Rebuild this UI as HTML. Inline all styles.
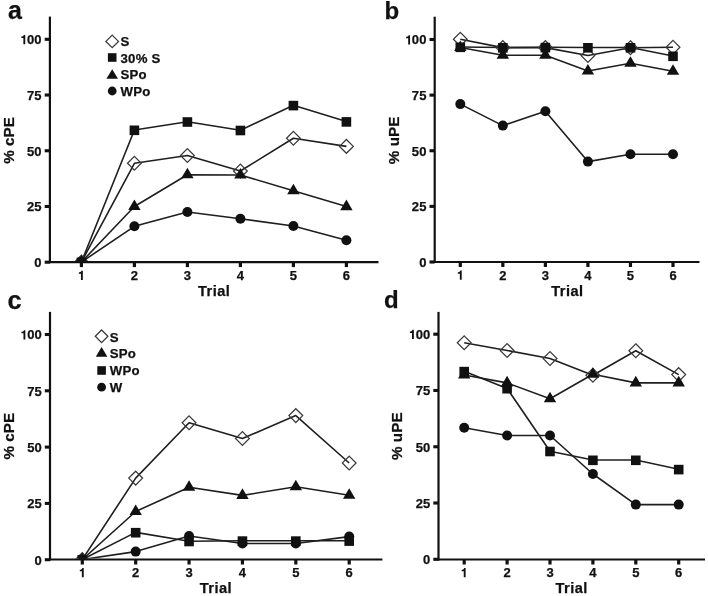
<!DOCTYPE html>
<html><head><meta charset="utf-8"><title>Figure</title>
<style>
html,body{margin:0;padding:0;background:#fff;width:708px;height:596px;overflow:hidden}
svg{display:block;will-change:transform}
text{font-family:"Liberation Sans", sans-serif;font-weight:bold;fill:#111;stroke:#111;stroke-width:0.25px}
</style></head><body>
<svg width="708" height="596" viewBox="0 0 708 596">
<rect width="708" height="596" fill="#fff"/>
<clipPath id="ca"><rect x="49.9" y="0" width="328.6" height="261.2"/></clipPath>
<g clip-path="url(#ca)">
<polyline points="81.4,262.1 134.4,163.3 187.4,155.5 240.4,171 293.4,138.3 346.4,146.4" fill="none" stroke="#1f1f1f" stroke-width="1.6" stroke-linejoin="round"/>
<polyline points="81.4,262.1 134.4,130 187.4,121.7 240.4,130.2 293.4,105.3 346.4,121.6" fill="none" stroke="#1f1f1f" stroke-width="1.6" stroke-linejoin="round"/>
<polyline points="81.4,262.1 134.4,206.5 187.4,174.8 240.4,175 293.4,190.7 346.4,206.6" fill="none" stroke="#1f1f1f" stroke-width="1.6" stroke-linejoin="round"/>
<polyline points="81.4,262.1 134.4,226.3 187.4,212 240.4,218.7 293.4,226 346.4,240.2" fill="none" stroke="#1f1f1f" stroke-width="1.6" stroke-linejoin="round"/>
<path d="M81.4 255.2L88.3 262.1L81.4 269L74.5 262.1Z" fill="none" stroke="#3a3a3a" stroke-width="1.25"/>
<path d="M134.4 156.4L141.3 163.3L134.4 170.2L127.5 163.3Z" fill="none" stroke="#3a3a3a" stroke-width="1.25"/>
<path d="M187.4 148.6L194.3 155.5L187.4 162.4L180.5 155.5Z" fill="none" stroke="#3a3a3a" stroke-width="1.25"/>
<path d="M240.4 164.1L247.3 171L240.4 177.9L233.5 171Z" fill="none" stroke="#3a3a3a" stroke-width="1.25"/>
<path d="M293.4 131.4L300.3 138.3L293.4 145.2L286.5 138.3Z" fill="none" stroke="#3a3a3a" stroke-width="1.25"/>
<path d="M346.4 139.5L353.3 146.4L346.4 153.3L339.5 146.4Z" fill="none" stroke="#3a3a3a" stroke-width="1.25"/>
<rect x="76.6" y="257.6" width="9.6" height="9.6" fill="#111"/>
<rect x="129.6" y="125.5" width="9.6" height="9.6" fill="#111"/>
<rect x="182.6" y="117.2" width="9.6" height="9.6" fill="#111"/>
<rect x="235.6" y="125.7" width="9.6" height="9.6" fill="#111"/>
<rect x="288.6" y="100.8" width="9.6" height="9.6" fill="#111"/>
<rect x="341.6" y="117.1" width="9.6" height="9.6" fill="#111"/>
<path d="M81.4 255.03L87.6 265.63L75.2 265.63Z" fill="#111"/>
<path d="M134.4 199.43L140.6 210.03L128.2 210.03Z" fill="#111"/>
<path d="M187.4 167.73L193.6 178.33L181.2 178.33Z" fill="#111"/>
<path d="M240.4 167.93L246.6 178.53L234.2 178.53Z" fill="#111"/>
<path d="M293.4 183.63L299.6 194.23L287.2 194.23Z" fill="#111"/>
<path d="M346.4 199.53L352.6 210.13L340.2 210.13Z" fill="#111"/>
<circle cx="81.4" cy="262.1" r="5" fill="#111"/>
<circle cx="134.4" cy="226.3" r="5" fill="#111"/>
<circle cx="187.4" cy="212" r="5" fill="#111"/>
<circle cx="240.4" cy="218.7" r="5" fill="#111"/>
<circle cx="293.4" cy="226" r="5" fill="#111"/>
<circle cx="346.4" cy="240.2" r="5" fill="#111"/>
</g>
<line x1="49.9" y1="16.6" x2="49.9" y2="263.1" stroke="#111" stroke-width="2.2"/>
<line x1="48.8" y1="262.1" x2="378.5" y2="262.1" stroke="#111" stroke-width="2.2"/>
<line x1="44.7" y1="262.2" x2="49.9" y2="262.2" stroke="#111" stroke-width="3.1"/>
<text x="41.7" y="267.1" font-size="13.0" text-anchor="end" letter-spacing="0.1" >0</text>
<line x1="44.7" y1="206.47" x2="49.9" y2="206.47" stroke="#111" stroke-width="3.1"/>
<text x="41.7" y="211.38" font-size="13.0" text-anchor="end" letter-spacing="0.1" >25</text>
<line x1="44.7" y1="150.75" x2="49.9" y2="150.75" stroke="#111" stroke-width="3.1"/>
<text x="41.7" y="155.65" font-size="13.0" text-anchor="end" letter-spacing="0.1" >50</text>
<line x1="44.7" y1="95.03" x2="49.9" y2="95.03" stroke="#111" stroke-width="3.1"/>
<text x="41.7" y="99.93" font-size="13.0" text-anchor="end" letter-spacing="0.1" >75</text>
<line x1="44.7" y1="39.3" x2="49.9" y2="39.3" stroke="#111" stroke-width="3.1"/>
<text x="41.7" y="44.2" font-size="13.0" text-anchor="end" letter-spacing="0.1" >00</text>
<path d="M25.25 44.2L25.25 34.97L23.82 34.97C23.61 35.75 23.3 36.14 22.7 36.37C22.24 36.56 21.85 36.62 21.33 36.62L21.33 38.06L23.38 38.06L23.38 44.2Z" fill="#111"/>
<line x1="81.4" y1="262.1" x2="81.4" y2="267.1" stroke="#111" stroke-width="3.2"/>
<path d="M82.82 279.9L82.82 270.67L81.39 270.67C81.18 271.45 80.87 271.84 80.27 272.07C79.81 272.26 79.42 272.32 78.9 272.32L78.9 273.76L80.95 273.76L80.95 279.9Z" fill="#111"/>
<line x1="134.4" y1="262.1" x2="134.4" y2="267.1" stroke="#111" stroke-width="3.2"/>
<text x="134.45" y="279.9" font-size="13.0" text-anchor="middle" letter-spacing="0.1" >2</text>
<line x1="187.4" y1="262.1" x2="187.4" y2="267.1" stroke="#111" stroke-width="3.2"/>
<text x="187.45" y="279.9" font-size="13.0" text-anchor="middle" letter-spacing="0.1" >3</text>
<line x1="240.4" y1="262.1" x2="240.4" y2="267.1" stroke="#111" stroke-width="3.2"/>
<text x="240.45" y="279.9" font-size="13.0" text-anchor="middle" letter-spacing="0.1" >4</text>
<line x1="293.4" y1="262.1" x2="293.4" y2="267.1" stroke="#111" stroke-width="3.2"/>
<text x="293.45" y="279.9" font-size="13.0" text-anchor="middle" letter-spacing="0.1" >5</text>
<line x1="346.4" y1="262.1" x2="346.4" y2="267.1" stroke="#111" stroke-width="3.2"/>
<text x="346.45" y="279.9" font-size="13.0" text-anchor="middle" letter-spacing="0.1" >6</text>
<text x="214.1" y="296" font-size="14.6" text-anchor="middle" letter-spacing="0.45" >Trial</text>
<text x="0" y="0" font-size="15.2" letter-spacing="0.05" text-anchor="middle" transform="translate(14 140.4) rotate(-90)">% cPE</text>
<text x="8" y="19.2" font-size="25" text-anchor="start" stroke="#111" stroke-width="0.35">a</text>
<path d="M112.2 35.1L118.5 41.4L112.2 47.7L105.9 41.4Z" fill="none" stroke="#3a3a3a" stroke-width="1.3"/>
<text x="120.5" y="46" font-size="13.2" text-anchor="start" letter-spacing="0.25" >S</text>
<rect x="107.9" y="53.2" width="8.6" height="8.6" fill="#111"/>
<text x="120.5" y="63" font-size="13.2" text-anchor="start" letter-spacing="0.25" >30% S</text>
<path d="M112.2 69.2L118 78.8L106.4 78.8Z" fill="#111"/>
<text x="120.5" y="79" font-size="13.2" text-anchor="start" letter-spacing="0.25" >SPo</text>
<circle cx="112.2" cy="91" r="4.4" fill="#111"/>
<text x="120.5" y="96" font-size="13.2" text-anchor="start" letter-spacing="0.25" >WPo</text>
<clipPath id="cb"><rect x="434.7" y="0" width="264.8" height="261.1"/></clipPath>
<g clip-path="url(#cb)">
<polyline points="460.3,39.3 502.84,47.6 545.38,47.6 587.92,55.5 630.46,47.7 673,47.3" fill="none" stroke="#1f1f1f" stroke-width="1.6" stroke-linejoin="round"/>
<polyline points="460.3,47.5 502.84,55.3 545.38,55.3 587.92,71 630.46,63.2 673,71.2" fill="none" stroke="#1f1f1f" stroke-width="1.6" stroke-linejoin="round"/>
<polyline points="460.3,47 502.84,47.5 545.38,47.3 587.92,47.5 630.46,47.5 673,56" fill="none" stroke="#1f1f1f" stroke-width="1.6" stroke-linejoin="round"/>
<polyline points="460.3,104.1 502.84,125.6 545.38,111.3 587.92,161.6 630.46,154.3 673,154.3" fill="none" stroke="#1f1f1f" stroke-width="1.6" stroke-linejoin="round"/>
<path d="M460.3 32.4L467.2 39.3L460.3 46.2L453.4 39.3Z" fill="none" stroke="#3a3a3a" stroke-width="1.25"/>
<path d="M502.84 40.7L509.74 47.6L502.84 54.5L495.94 47.6Z" fill="none" stroke="#3a3a3a" stroke-width="1.25"/>
<path d="M545.38 40.7L552.28 47.6L545.38 54.5L538.48 47.6Z" fill="none" stroke="#3a3a3a" stroke-width="1.25"/>
<path d="M587.92 48.6L594.82 55.5L587.92 62.4L581.02 55.5Z" fill="none" stroke="#3a3a3a" stroke-width="1.25"/>
<path d="M630.46 40.8L637.36 47.7L630.46 54.6L623.56 47.7Z" fill="none" stroke="#3a3a3a" stroke-width="1.25"/>
<path d="M673 40.4L679.9 47.3L673 54.2L666.1 47.3Z" fill="none" stroke="#3a3a3a" stroke-width="1.25"/>
<path d="M460.3 40.43L466.5 51.03L454.1 51.03Z" fill="#111"/>
<path d="M502.84 48.23L509.04 58.83L496.64 58.83Z" fill="#111"/>
<path d="M545.38 48.23L551.58 58.83L539.18 58.83Z" fill="#111"/>
<path d="M587.92 63.93L594.12 74.53L581.72 74.53Z" fill="#111"/>
<path d="M630.46 56.13L636.66 66.73L624.26 66.73Z" fill="#111"/>
<path d="M673 64.13L679.2 74.73L666.8 74.73Z" fill="#111"/>
<rect x="455.5" y="42.5" width="9.6" height="9.6" fill="#111"/>
<rect x="498.04" y="43" width="9.6" height="9.6" fill="#111"/>
<rect x="540.58" y="42.8" width="9.6" height="9.6" fill="#111"/>
<rect x="583.12" y="43" width="9.6" height="9.6" fill="#111"/>
<rect x="625.66" y="43" width="9.6" height="9.6" fill="#111"/>
<rect x="668.2" y="51.5" width="9.6" height="9.6" fill="#111"/>
<circle cx="460.3" cy="104.1" r="5" fill="#111"/>
<circle cx="502.84" cy="125.6" r="5" fill="#111"/>
<circle cx="545.38" cy="111.3" r="5" fill="#111"/>
<circle cx="587.92" cy="161.6" r="5" fill="#111"/>
<circle cx="630.46" cy="154.3" r="5" fill="#111"/>
<circle cx="673" cy="154.3" r="5" fill="#111"/>
</g>
<line x1="434.7" y1="16.7" x2="434.7" y2="263" stroke="#111" stroke-width="2.2"/>
<line x1="433.6" y1="262" x2="699.5" y2="262" stroke="#111" stroke-width="2.2"/>
<line x1="429.5" y1="262" x2="434.7" y2="262" stroke="#111" stroke-width="3.1"/>
<text x="426.5" y="266.9" font-size="13.0" text-anchor="end" letter-spacing="0.1" >0</text>
<line x1="429.5" y1="206.38" x2="434.7" y2="206.38" stroke="#111" stroke-width="3.1"/>
<text x="426.5" y="211.28" font-size="13.0" text-anchor="end" letter-spacing="0.1" >25</text>
<line x1="429.5" y1="150.75" x2="434.7" y2="150.75" stroke="#111" stroke-width="3.1"/>
<text x="426.5" y="155.65" font-size="13.0" text-anchor="end" letter-spacing="0.1" >50</text>
<line x1="429.5" y1="95.12" x2="434.7" y2="95.12" stroke="#111" stroke-width="3.1"/>
<text x="426.5" y="100.03" font-size="13.0" text-anchor="end" letter-spacing="0.1" >75</text>
<line x1="429.5" y1="39.5" x2="434.7" y2="39.5" stroke="#111" stroke-width="3.1"/>
<text x="426.5" y="44.4" font-size="13.0" text-anchor="end" letter-spacing="0.1" >00</text>
<path d="M410.05 44.4L410.05 35.17L408.62 35.17C408.41 35.95 408.1 36.34 407.5 36.57C407.04 36.76 406.65 36.82 406.13 36.82L406.13 38.26L408.18 38.26L408.18 44.4Z" fill="#111"/>
<line x1="460.3" y1="262" x2="460.3" y2="267" stroke="#111" stroke-width="3.2"/>
<path d="M461.72 279.8L461.72 270.57L460.29 270.57C460.08 271.35 459.77 271.74 459.17 271.97C458.71 272.16 458.32 272.22 457.8 272.22L457.8 273.66L459.85 273.66L459.85 279.8Z" fill="#111"/>
<line x1="502.84" y1="262" x2="502.84" y2="267" stroke="#111" stroke-width="3.2"/>
<text x="502.89" y="279.8" font-size="13.0" text-anchor="middle" letter-spacing="0.1" >2</text>
<line x1="545.38" y1="262" x2="545.38" y2="267" stroke="#111" stroke-width="3.2"/>
<text x="545.43" y="279.8" font-size="13.0" text-anchor="middle" letter-spacing="0.1" >3</text>
<line x1="587.92" y1="262" x2="587.92" y2="267" stroke="#111" stroke-width="3.2"/>
<text x="587.97" y="279.8" font-size="13.0" text-anchor="middle" letter-spacing="0.1" >4</text>
<line x1="630.46" y1="262" x2="630.46" y2="267" stroke="#111" stroke-width="3.2"/>
<text x="630.51" y="279.8" font-size="13.0" text-anchor="middle" letter-spacing="0.1" >5</text>
<line x1="673" y1="262" x2="673" y2="267" stroke="#111" stroke-width="3.2"/>
<text x="673.05" y="279.8" font-size="13.0" text-anchor="middle" letter-spacing="0.1" >6</text>
<text x="567.45" y="295.9" font-size="14.6" text-anchor="middle" letter-spacing="0.45" >Trial</text>
<text x="0" y="0" font-size="15.2" letter-spacing="0.05" text-anchor="middle" transform="translate(398.9 140.4) rotate(-90)">% uPE</text>
<text x="384.5" y="18.6" font-size="24" text-anchor="start" stroke="#111" stroke-width="0.35">b</text>
<clipPath id="cc"><rect x="50" y="0" width="332.4" height="558.6"/></clipPath>
<g clip-path="url(#cc)">
<polyline points="82.3,559.5 135.68,478.1 189.06,422.8 242.44,438.5 295.82,415.6 349.2,463" fill="none" stroke="#1f1f1f" stroke-width="1.6" stroke-linejoin="round"/>
<polyline points="82.3,559.5 135.68,511.5 189.06,487.2 242.44,495.4 295.82,486.8 349.2,495.3" fill="none" stroke="#1f1f1f" stroke-width="1.6" stroke-linejoin="round"/>
<polyline points="82.3,559.5 135.68,532.4 189.06,541.2 242.44,540.8 295.82,540.8 349.2,540.8" fill="none" stroke="#1f1f1f" stroke-width="1.6" stroke-linejoin="round"/>
<polyline points="82.3,559.5 135.68,551.6 189.06,536 242.44,543.5 295.82,543.5 349.2,536.6" fill="none" stroke="#1f1f1f" stroke-width="1.6" stroke-linejoin="round"/>
<path d="M82.3 552.6L89.2 559.5L82.3 566.4L75.4 559.5Z" fill="none" stroke="#3a3a3a" stroke-width="1.25"/>
<path d="M135.68 471.2L142.58 478.1L135.68 485L128.78 478.1Z" fill="none" stroke="#3a3a3a" stroke-width="1.25"/>
<path d="M189.06 415.9L195.96 422.8L189.06 429.7L182.16 422.8Z" fill="none" stroke="#3a3a3a" stroke-width="1.25"/>
<path d="M242.44 431.6L249.34 438.5L242.44 445.4L235.54 438.5Z" fill="none" stroke="#3a3a3a" stroke-width="1.25"/>
<path d="M295.82 408.7L302.72 415.6L295.82 422.5L288.92 415.6Z" fill="none" stroke="#3a3a3a" stroke-width="1.25"/>
<path d="M349.2 456.1L356.1 463L349.2 469.9L342.3 463Z" fill="none" stroke="#3a3a3a" stroke-width="1.25"/>
<path d="M82.3 552.43L88.5 563.03L76.1 563.03Z" fill="#111"/>
<path d="M135.68 504.43L141.88 515.03L129.48 515.03Z" fill="#111"/>
<path d="M189.06 480.13L195.26 490.73L182.86 490.73Z" fill="#111"/>
<path d="M242.44 488.33L248.64 498.93L236.24 498.93Z" fill="#111"/>
<path d="M295.82 479.73L302.02 490.33L289.62 490.33Z" fill="#111"/>
<path d="M349.2 488.23L355.4 498.83L343 498.83Z" fill="#111"/>
<circle cx="82.3" cy="559.5" r="5" fill="#111"/>
<circle cx="135.68" cy="551.6" r="5" fill="#111"/>
<circle cx="189.06" cy="536" r="5" fill="#111"/>
<circle cx="242.44" cy="543.5" r="5" fill="#111"/>
<circle cx="295.82" cy="543.5" r="5" fill="#111"/>
<circle cx="349.2" cy="536.6" r="5" fill="#111"/>
<rect x="77.5" y="555" width="9.6" height="9.6" fill="#111"/>
<rect x="130.88" y="527.9" width="9.6" height="9.6" fill="#111"/>
<rect x="184.26" y="536.7" width="9.6" height="9.6" fill="#111"/>
<rect x="237.64" y="536.3" width="9.6" height="9.6" fill="#111"/>
<rect x="291.02" y="536.3" width="9.6" height="9.6" fill="#111"/>
<rect x="344.4" y="536.3" width="9.6" height="9.6" fill="#111"/>
</g>
<line x1="50" y1="311.9" x2="50" y2="560.5" stroke="#111" stroke-width="2.2"/>
<line x1="48.9" y1="559.5" x2="382.4" y2="559.5" stroke="#111" stroke-width="2.2"/>
<line x1="44.8" y1="559.7" x2="50" y2="559.7" stroke="#111" stroke-width="3.1"/>
<text x="41.8" y="564.6" font-size="13.0" text-anchor="end" letter-spacing="0.1" >0</text>
<line x1="44.8" y1="503.4" x2="50" y2="503.4" stroke="#111" stroke-width="3.1"/>
<text x="41.8" y="508.3" font-size="13.0" text-anchor="end" letter-spacing="0.1" >25</text>
<line x1="44.8" y1="447.1" x2="50" y2="447.1" stroke="#111" stroke-width="3.1"/>
<text x="41.8" y="452" font-size="13.0" text-anchor="end" letter-spacing="0.1" >50</text>
<line x1="44.8" y1="390.8" x2="50" y2="390.8" stroke="#111" stroke-width="3.1"/>
<text x="41.8" y="395.7" font-size="13.0" text-anchor="end" letter-spacing="0.1" >75</text>
<line x1="44.8" y1="334.5" x2="50" y2="334.5" stroke="#111" stroke-width="3.1"/>
<text x="41.8" y="339.4" font-size="13.0" text-anchor="end" letter-spacing="0.1" >00</text>
<path d="M25.35 339.4L25.35 330.17L23.92 330.17C23.71 330.95 23.4 331.34 22.8 331.57C22.34 331.76 21.95 331.82 21.43 331.82L21.43 333.26L23.48 333.26L23.48 339.4Z" fill="#111"/>
<line x1="82.3" y1="559.5" x2="82.3" y2="564.5" stroke="#111" stroke-width="3.2"/>
<path d="M83.72 577.3L83.72 568.07L82.29 568.07C82.08 568.85 81.77 569.24 81.17 569.47C80.71 569.66 80.32 569.72 79.8 569.72L79.8 571.16L81.85 571.16L81.85 577.3Z" fill="#111"/>
<line x1="135.68" y1="559.5" x2="135.68" y2="564.5" stroke="#111" stroke-width="3.2"/>
<text x="135.73" y="577.3" font-size="13.0" text-anchor="middle" letter-spacing="0.1" >2</text>
<line x1="189.06" y1="559.5" x2="189.06" y2="564.5" stroke="#111" stroke-width="3.2"/>
<text x="189.11" y="577.3" font-size="13.0" text-anchor="middle" letter-spacing="0.1" >3</text>
<line x1="242.44" y1="559.5" x2="242.44" y2="564.5" stroke="#111" stroke-width="3.2"/>
<text x="242.49" y="577.3" font-size="13.0" text-anchor="middle" letter-spacing="0.1" >4</text>
<line x1="295.82" y1="559.5" x2="295.82" y2="564.5" stroke="#111" stroke-width="3.2"/>
<text x="295.87" y="577.3" font-size="13.0" text-anchor="middle" letter-spacing="0.1" >5</text>
<line x1="349.2" y1="559.5" x2="349.2" y2="564.5" stroke="#111" stroke-width="3.2"/>
<text x="349.25" y="577.3" font-size="13.0" text-anchor="middle" letter-spacing="0.1" >6</text>
<text x="215.95" y="593.4" font-size="14.6" text-anchor="middle" letter-spacing="0.45" >Trial</text>
<text x="0" y="0" font-size="15.2" letter-spacing="0.05" text-anchor="middle" transform="translate(14 436.2) rotate(-90)">% cPE</text>
<text x="7.4" y="309" font-size="25.4" text-anchor="start" stroke="#111" stroke-width="0.35">c</text>
<path d="M101.6 330L107.9 336.3L101.6 342.6L95.3 336.3Z" fill="none" stroke="#3a3a3a" stroke-width="1.3"/>
<text x="109.7" y="342.4" font-size="13.2" text-anchor="start" letter-spacing="0.25" >S</text>
<path d="M101.6 347.1L107.4 356.7L95.8 356.7Z" fill="#111"/>
<text x="109.7" y="358.2" font-size="13.2" text-anchor="start" letter-spacing="0.25" >SPo</text>
<rect x="97.3" y="366.2" width="8.6" height="8.6" fill="#111"/>
<text x="109.7" y="375.2" font-size="13.2" text-anchor="start" letter-spacing="0.25" >WPo</text>
<circle cx="101.6" cy="387.2" r="4.4" fill="#111"/>
<text x="109.7" y="391.8" font-size="13.2" text-anchor="start" letter-spacing="0.25" >W</text>
<clipPath id="cd"><rect x="438.5" y="0" width="266.5" height="558.6"/></clipPath>
<g clip-path="url(#cd)">
<polyline points="464.2,342.8 507.1,350.5 550,358.5 592.9,375.3 635.8,350.7 678.7,374.6" fill="none" stroke="#1f1f1f" stroke-width="1.6" stroke-linejoin="round"/>
<polyline points="464.2,375 507.1,382.9 550,398.8 592.9,374.3 635.8,382.9 678.7,382.9" fill="none" stroke="#1f1f1f" stroke-width="1.6" stroke-linejoin="round"/>
<polyline points="464.2,371.3 507.1,388.4 550,451.2 592.9,460 635.8,460 678.7,469.3" fill="none" stroke="#1f1f1f" stroke-width="1.6" stroke-linejoin="round"/>
<polyline points="464.2,427.8 507.1,435.5 550,435.5 592.9,474 635.8,504.6 678.7,504.6" fill="none" stroke="#1f1f1f" stroke-width="1.6" stroke-linejoin="round"/>
<path d="M464.2 335.9L471.1 342.8L464.2 349.7L457.3 342.8Z" fill="none" stroke="#3a3a3a" stroke-width="1.25"/>
<path d="M507.1 343.6L514 350.5L507.1 357.4L500.2 350.5Z" fill="none" stroke="#3a3a3a" stroke-width="1.25"/>
<path d="M550 351.6L556.9 358.5L550 365.4L543.1 358.5Z" fill="none" stroke="#3a3a3a" stroke-width="1.25"/>
<path d="M592.9 368.4L599.8 375.3L592.9 382.2L586 375.3Z" fill="none" stroke="#3a3a3a" stroke-width="1.25"/>
<path d="M635.8 343.8L642.7 350.7L635.8 357.6L628.9 350.7Z" fill="none" stroke="#3a3a3a" stroke-width="1.25"/>
<path d="M678.7 367.7L685.6 374.6L678.7 381.5L671.8 374.6Z" fill="none" stroke="#3a3a3a" stroke-width="1.25"/>
<rect x="459.4" y="366.8" width="9.6" height="9.6" fill="#111"/>
<rect x="502.3" y="383.9" width="9.6" height="9.6" fill="#111"/>
<rect x="545.2" y="446.7" width="9.6" height="9.6" fill="#111"/>
<rect x="588.1" y="455.5" width="9.6" height="9.6" fill="#111"/>
<rect x="631" y="455.5" width="9.6" height="9.6" fill="#111"/>
<rect x="673.9" y="464.8" width="9.6" height="9.6" fill="#111"/>
<path d="M464.2 367.93L470.4 378.53L458 378.53Z" fill="#111"/>
<path d="M507.1 375.83L513.3 386.43L500.9 386.43Z" fill="#111"/>
<path d="M550 391.73L556.2 402.33L543.8 402.33Z" fill="#111"/>
<path d="M592.9 367.23L599.1 377.83L586.7 377.83Z" fill="#111"/>
<path d="M635.8 375.83L642 386.43L629.6 386.43Z" fill="#111"/>
<path d="M678.7 375.83L684.9 386.43L672.5 386.43Z" fill="#111"/>
<circle cx="464.2" cy="427.8" r="5" fill="#111"/>
<circle cx="507.1" cy="435.5" r="5" fill="#111"/>
<circle cx="550" cy="435.5" r="5" fill="#111"/>
<circle cx="592.9" cy="474" r="5" fill="#111"/>
<circle cx="635.8" cy="504.6" r="5" fill="#111"/>
<circle cx="678.7" cy="504.6" r="5" fill="#111"/>
</g>
<line x1="438.5" y1="311.9" x2="438.5" y2="560.5" stroke="#111" stroke-width="2.2"/>
<line x1="437.4" y1="559.5" x2="705" y2="559.5" stroke="#111" stroke-width="2.2"/>
<line x1="433.3" y1="559.3" x2="438.5" y2="559.3" stroke="#111" stroke-width="3.1"/>
<text x="430.3" y="564.2" font-size="13.0" text-anchor="end" letter-spacing="0.1" >0</text>
<line x1="433.3" y1="503.02" x2="438.5" y2="503.02" stroke="#111" stroke-width="3.1"/>
<text x="430.3" y="507.92" font-size="13.0" text-anchor="end" letter-spacing="0.1" >25</text>
<line x1="433.3" y1="446.75" x2="438.5" y2="446.75" stroke="#111" stroke-width="3.1"/>
<text x="430.3" y="451.65" font-size="13.0" text-anchor="end" letter-spacing="0.1" >50</text>
<line x1="433.3" y1="390.47" x2="438.5" y2="390.47" stroke="#111" stroke-width="3.1"/>
<text x="430.3" y="395.37" font-size="13.0" text-anchor="end" letter-spacing="0.1" >75</text>
<line x1="433.3" y1="334.2" x2="438.5" y2="334.2" stroke="#111" stroke-width="3.1"/>
<text x="430.3" y="339.1" font-size="13.0" text-anchor="end" letter-spacing="0.1" >00</text>
<path d="M413.85 339.1L413.85 329.87L412.42 329.87C412.21 330.65 411.9 331.04 411.3 331.27C410.84 331.46 410.45 331.52 409.93 331.52L409.93 332.96L411.98 332.96L411.98 339.1Z" fill="#111"/>
<line x1="464.2" y1="559.5" x2="464.2" y2="564.5" stroke="#111" stroke-width="3.2"/>
<path d="M465.62 577.3L465.62 568.07L464.19 568.07C463.98 568.85 463.67 569.24 463.07 569.47C462.61 569.66 462.22 569.72 461.7 569.72L461.7 571.16L463.75 571.16L463.75 577.3Z" fill="#111"/>
<line x1="507.1" y1="559.5" x2="507.1" y2="564.5" stroke="#111" stroke-width="3.2"/>
<text x="507.15" y="577.3" font-size="13.0" text-anchor="middle" letter-spacing="0.1" >2</text>
<line x1="550" y1="559.5" x2="550" y2="564.5" stroke="#111" stroke-width="3.2"/>
<text x="550.05" y="577.3" font-size="13.0" text-anchor="middle" letter-spacing="0.1" >3</text>
<line x1="592.9" y1="559.5" x2="592.9" y2="564.5" stroke="#111" stroke-width="3.2"/>
<text x="592.95" y="577.3" font-size="13.0" text-anchor="middle" letter-spacing="0.1" >4</text>
<line x1="635.8" y1="559.5" x2="635.8" y2="564.5" stroke="#111" stroke-width="3.2"/>
<text x="635.85" y="577.3" font-size="13.0" text-anchor="middle" letter-spacing="0.1" >5</text>
<line x1="678.7" y1="559.5" x2="678.7" y2="564.5" stroke="#111" stroke-width="3.2"/>
<text x="678.75" y="577.3" font-size="13.0" text-anchor="middle" letter-spacing="0.1" >6</text>
<text x="571.65" y="593.4" font-size="14.6" text-anchor="middle" letter-spacing="0.45" >Trial</text>
<text x="0" y="0" font-size="15.2" letter-spacing="0.05" text-anchor="middle" transform="translate(402.3 436.2) rotate(-90)">% uPE</text>
<text x="384.1" y="307.5" font-size="24" text-anchor="start" stroke="#111" stroke-width="0.35">d</text>
</svg>
</body></html>
